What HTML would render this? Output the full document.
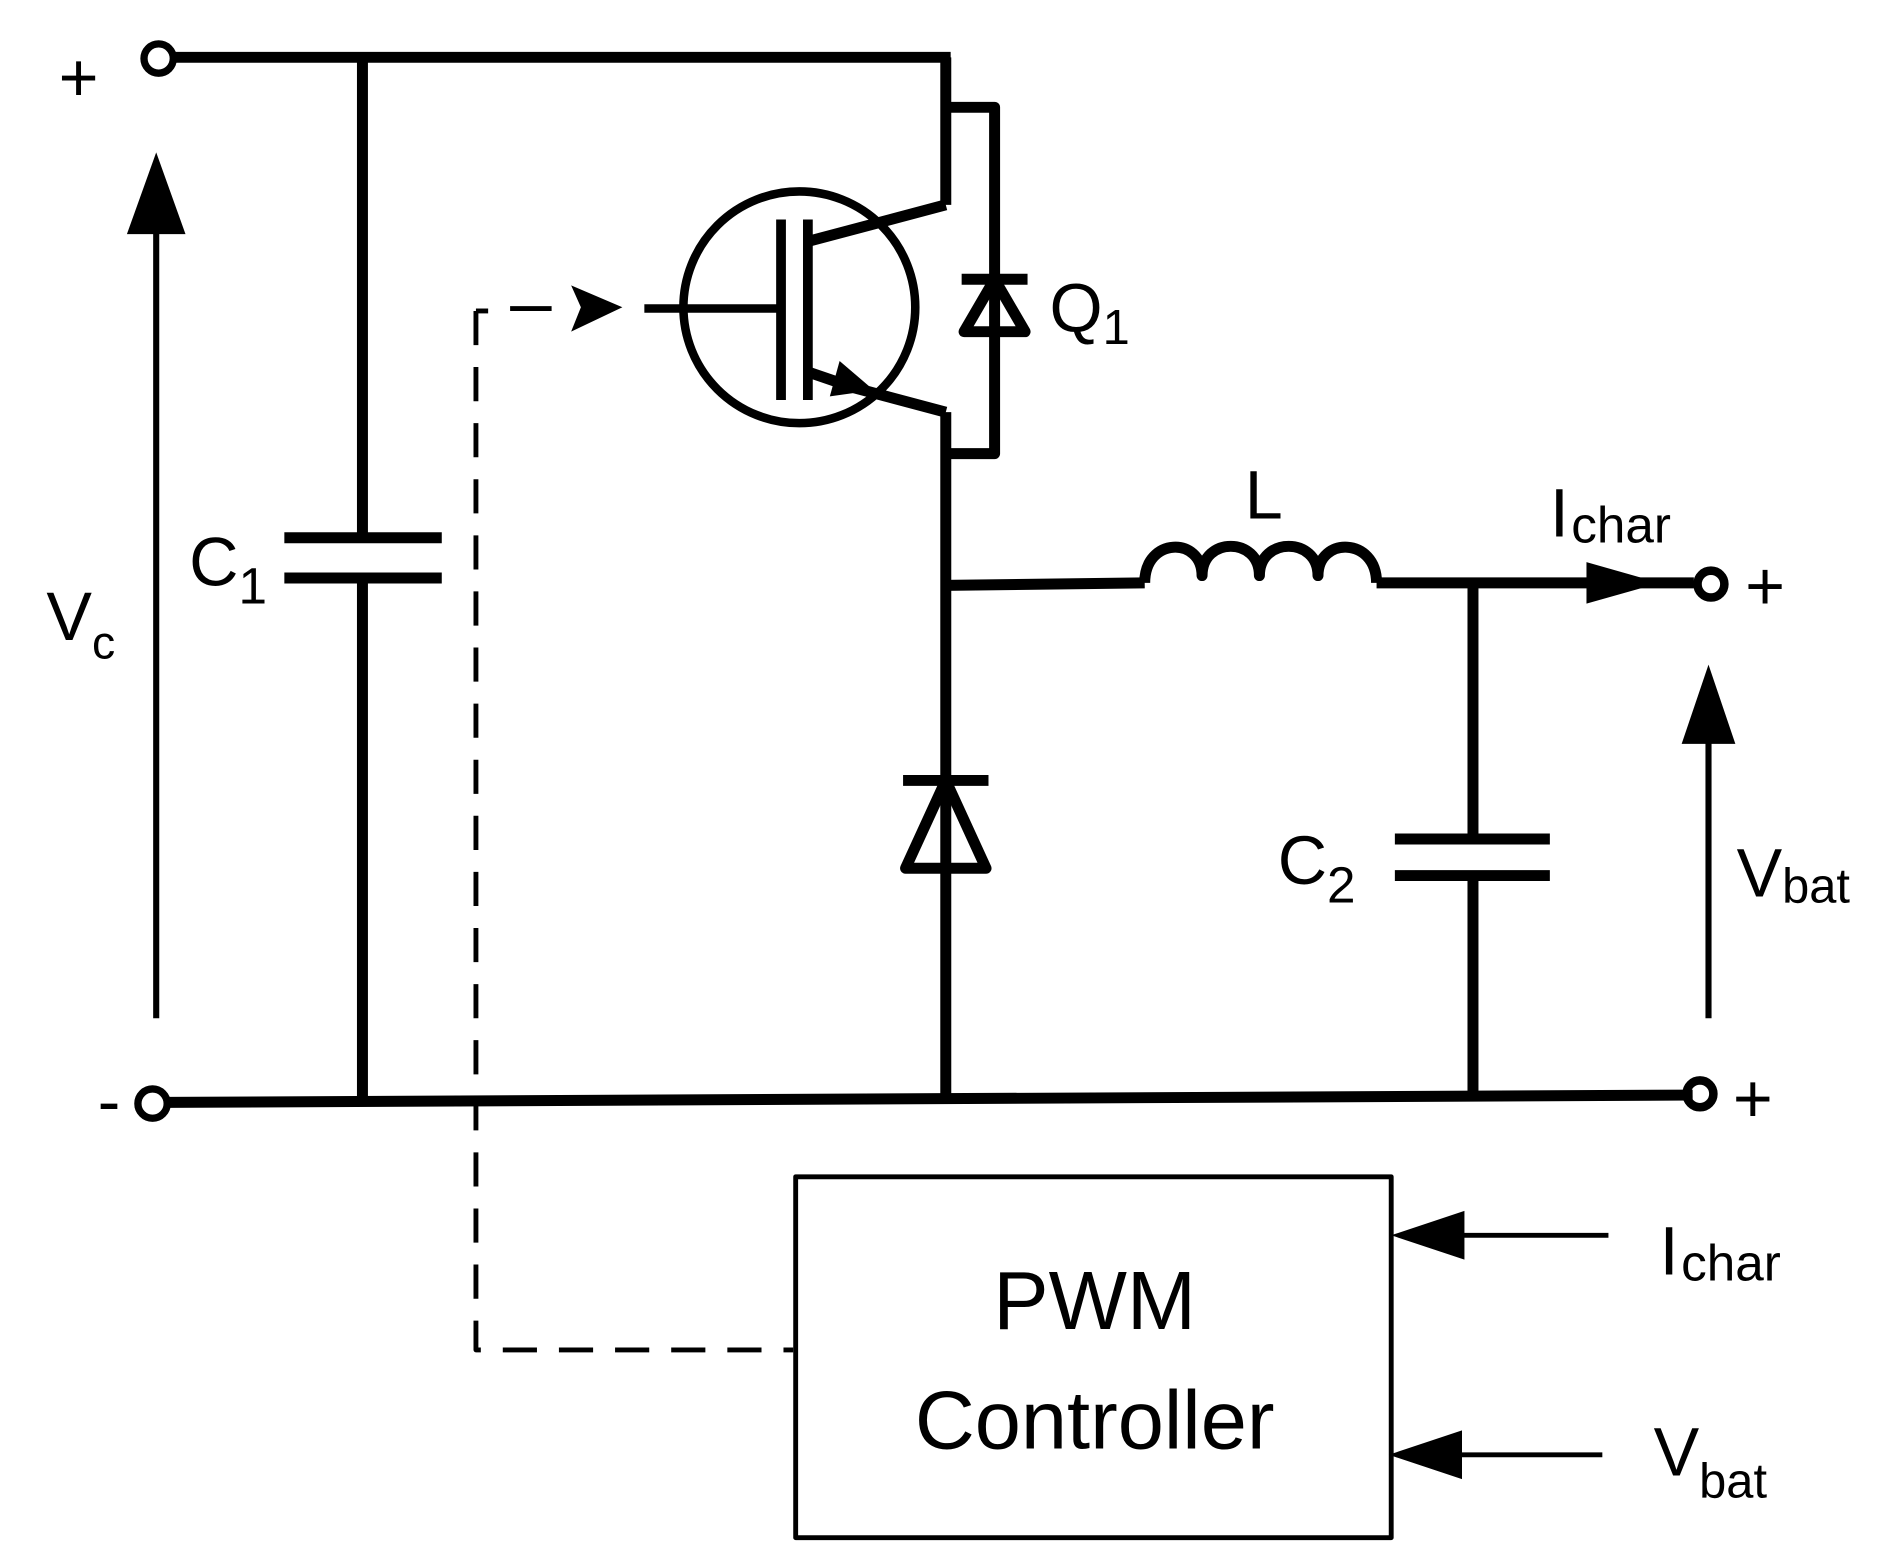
<!DOCTYPE html>
<html><head><meta charset="utf-8"><style>html,body{margin:0;padding:0;background:#fff}svg{display:block}</style></head>
<body>
<svg width="1894" height="1556" viewBox="0 0 1552 1276" preserveAspectRatio="none" xmlns="http://www.w3.org/2000/svg" font-family="Liberation Sans, sans-serif">
<g stroke="#000" stroke-width="9" fill="none" stroke-linejoin="round">
<line x1="143" y1="47" x2="779" y2="47"/>
<circle cx="130" cy="48" r="12" stroke-width="6"/>
<line x1="138" y1="904" x2="1387" y2="898"/>
<circle cx="125" cy="905" r="12" stroke-width="6"/>
<line x1="297" y1="47" x2="297" y2="441"/>
<line x1="297" y1="474" x2="297" y2="903"/>
<line x1="233" y1="441" x2="362" y2="441"/>
<line x1="233" y1="474" x2="362" y2="474"/>
<line x1="128" y1="835" x2="128" y2="180" stroke-width="5"/>
<line x1="775" y1="47" x2="775" y2="168"/>
<polyline points="775,88 815,88 815,372 775,372"/>
<line x1="775" y1="338" x2="775" y2="898"/>
<circle cx="655" cy="252" r="95" stroke-width="7"/>
<line x1="528" y1="253" x2="640" y2="253" stroke-width="7"/>
<line x1="640" y1="180" x2="640" y2="328" stroke-width="8"/>
<line x1="662" y1="180" x2="662" y2="328" stroke-width="8"/>
<line x1="662" y1="198" x2="775" y2="168"/>
<line x1="662" y1="305" x2="700" y2="318"/>
<line x1="700" y1="318" x2="775" y2="338"/>
<line x1="788" y1="229" x2="842" y2="229"/>
<polygon points="815,229 790,272 840,272"/>
<line x1="740" y1="640" x2="810" y2="640"/>
<polygon points="775,640 742,712 808,712"/>
<line x1="775" y1="480" x2="938" y2="478"/>
<path d="M938,478 C938,440 985,440 985,472 C985,440 1032,440 1032,472 C1032,440 1080,440 1080,472 C1080,440 1128,440 1128,478"/>
<line x1="1128" y1="478" x2="1388" y2="478"/>
<circle cx="1402" cy="479" r="11" stroke-width="7"/>
<line x1="1207" y1="478" x2="1207" y2="688"/>
<line x1="1207" y1="718" x2="1207" y2="898"/>
<line x1="1143" y1="688" x2="1270" y2="688"/>
<line x1="1143" y1="718" x2="1270" y2="718"/>
<circle cx="1393" cy="897" r="11" stroke-width="7"/>
<line x1="1400" y1="835" x2="1400" y2="600" stroke-width="5"/>
<rect x="652" y="965" width="488" height="296" stroke-width="4"/>
<line x1="1318" y1="1013" x2="1195" y2="1013" stroke-width="4"/>
<line x1="1313" y1="1193" x2="1195" y2="1193" stroke-width="4"/>
<polyline points="390,255 390,1107 650,1107" stroke-width="4" stroke-dasharray="28,18"/>
<line x1="390" y1="255" x2="400" y2="255" stroke-width="4"/>
<line x1="418" y1="253" x2="452" y2="253" stroke-width="4"/>
</g>
<g fill="#000">
<polygon points="128,125 104,192 152,192"/>
<polygon points="1400,545 1378,610 1422,610"/>
<polygon points="1360,478 1300,461 1300,495"/>
<polygon points="1140,1013 1200,993 1200,1033"/>
<polygon points="1138,1193 1198,1173 1198,1213"/>
<polygon points="510,252 468,234 476,252 468,272"/>
<polygon points="716,320 688,296 680,325"/>
</g>
<g fill="#000" font-size="56">
<text x="48" y="83">+</text>
<text x="80" y="922">-</text>
<text x="38" y="525">V<tspan font-size="38" dy="15">c</tspan></text>
<text x="155" y="480">C<tspan font-size="42" dy="15">1</tspan></text>
<text x="860" y="272">Q<tspan font-size="40" dy="10">1</tspan></text>
<text x="1020" y="425">L</text>
<text x="1270" y="440">I<tspan font-size="42" dx="2" dy="5">char</tspan></text>
<text x="1430" y="500">+</text>
<text x="1420" y="920">+</text>
<text x="1047" y="725">C<tspan font-size="42" dy="15">2</tspan></text>
<text x="1423" y="735">V<tspan font-size="40" dy="5">bat</tspan></text>
<text x="1360" y="1045">I<tspan font-size="42" dx="2" dy="5">char</tspan></text>
<text x="1355" y="1210">V<tspan font-size="40" dy="18">bat</tspan></text>
<text x="897" y="1090" text-anchor="middle" font-size="68">PWM</text>
<text x="897" y="1188" text-anchor="middle" font-size="68">Controller</text>
</g>
</svg>
</body></html>
